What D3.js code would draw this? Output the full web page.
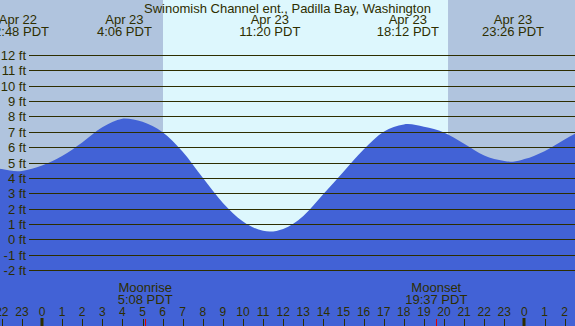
<!DOCTYPE html>
<html>
<head>
<meta charset="utf-8">
<script src="https://cdn.jsdelivr.net/npm/d3@7"></script>
<style>
html,body{margin:0;padding:0;overflow:hidden;background:#fff;}
text{font-family:"Liberation Sans",Arial,sans-serif;font-size:13px;fill:#2e2e00;}
text.hour{font-size:12px;}
</style>
</head>
<body>
<svg id="chart" width="575" height="326"></svg>
<script>
// ---- data ----
const title = "Swinomish Channel ent., Padilla Bay, Washington";
// hours since Apr 23 00:00 PDT, water level in feet
const tideHours = [-3, -2, -1.2, -1, 0, 1, 2, 3, 4, 4.1, 5, 6, 7, 8, 9, 10, 11, 11.33, 12, 13, 14, 15, 16, 17, 18, 18.2, 19, 20, 21, 22, 23, 23.43, 24, 25, 26, 27];
const tideFeet  = [4.85, 4.57, 4.43, 4.45, 4.8, 5.42, 6.31, 7.3, 7.85, 7.87, 7.65, 6.97, 5.7, 4.0, 2.37, 1.16, 0.55, 0.5, 0.67, 1.52, 2.95, 4.4, 5.85, 7.0, 7.48, 7.5, 7.32, 6.95, 6.22, 5.45, 5.1, 5.05, 5.22, 5.74, 6.5, 7.2];
// extreme labels
const extremeHours = [-1.2, 4.1, 11.333, 18.2, 23.433];
const extremeDates = ["Apr 22", "Apr 23", "Apr 23", "Apr 23", "Apr 23"];
const extremeTimes = ["22:48 PDT", "4:06 PDT", "11:20 PDT", "18:12 PDT", "23:26 PDT"];
// sun: sunrise / sunset (hours)
const sunrise = 6.02, sunset = 20.2;
// moon events
const moonHours = [5.133, 19.617];
const moonNames = ["Moonrise", "Moonset"];
const moonTimes = ["5:08 PDT", "19:37 PDT"];
// y gridlines
const feetTicks = [12, 11, 10, 9, 8, 7, 6, 5, 4, 3, 2, 1, 0, -1, -2];
// hour ticks
const hourTicks = [-2, -1, 0, 1, 2, 3, 4, 5, 6, 7, 8, 9, 10, 11, 12, 13, 14, 15, 16, 17, 18, 19, 20, 21, 22, 23, 24, 25, 26];

// ---- drawing ----
const W = 575, H = 326;
const svg = d3.select("#chart");
const x = d3.scaleLinear().domain([-42 / 20.1, (W - 42) / 20.1]).range([0, W]);
const y = d3.scaleLinear().domain([-2, 12]).range([270, 55]);

// backgrounds
svg.append("rect").attr("x", 0).attr("y", 0).attr("width", W).attr("height", H).attr("fill", "#b0c4de");
svg.append("rect").attr("x", x(sunrise)).attr("y", 0)
  .attr("width", x(sunset) - x(sunrise)).attr("height", H).attr("fill", "#ddf7fd");

// water
const data = tideHours.map((h, i) => ({h, v: tideFeet[i]}));
const area = d3.area().x(d => x(d.h)).y0(H).y1(d => y(d.v)).curve(d3.curveMonotoneX);
svg.append("path").datum(data).attr("d", area).attr("fill", "#4262d6");

// gridlines and labels
feetTicks.forEach(f => {
  const yy = Math.round(y(f)) + 0.5;
  svg.append("line").attr("x1", 29).attr("x2", W).attr("y1", yy).attr("y2", yy)
    .attr("stroke", "#2e2e00").attr("stroke-width", 1).attr("shape-rendering", "crispEdges");
  svg.append("text").attr("x", 26).attr("y", yy + 4.5).attr("text-anchor", "end").text(f + " ft");
});

// title
svg.append("text").attr("x", W / 2).attr("y", 12.5).attr("text-anchor", "middle").text(title);

// extreme labels
extremeHours.forEach((h, i) => {
  svg.append("text").attr("x", x(h)).attr("y", 24).attr("text-anchor", "middle").text(extremeDates[i]);
  svg.append("text").attr("x", x(h)).attr("y", 36).attr("text-anchor", "middle").text(extremeTimes[i]);
});

// moon labels
moonHours.forEach((h, i) => {
  svg.append("text").attr("x", x(h)).attr("y", 292).attr("text-anchor", "middle").text(moonNames[i]);
  svg.append("text").attr("x", x(h)).attr("y", 304).attr("text-anchor", "middle").text(moonTimes[i]);
  svg.append("line").attr("x1", Math.round(x(h)) + 0.5).attr("x2", Math.round(x(h)) + 0.5)
    .attr("y1", 319).attr("y2", H).attr("stroke", "#e00000").attr("stroke-width", 1);
});

// hour axis
hourTicks.forEach(h => {
  const xx = x(h);
  const lab = ((h % 24) + 24) % 24;
  svg.append("text").attr("class", "hour").attr("x", xx).attr("y", 316).attr("text-anchor", "middle").text(lab);
  if (lab === 0) {
    svg.append("rect").attr("x", Math.round(xx) - 1.5).attr("y", 318).attr("width", 3).attr("height", H - 318)
      .attr("fill", "#2e2e00");
  } else {
    svg.append("line").attr("x1", Math.round(xx) + 0.5).attr("x2", Math.round(xx) + 0.5)
      .attr("y1", 319).attr("y2", H).attr("stroke", "#2e2e00").attr("stroke-width", 1);
  }
});
</script>
</body>
</html>
